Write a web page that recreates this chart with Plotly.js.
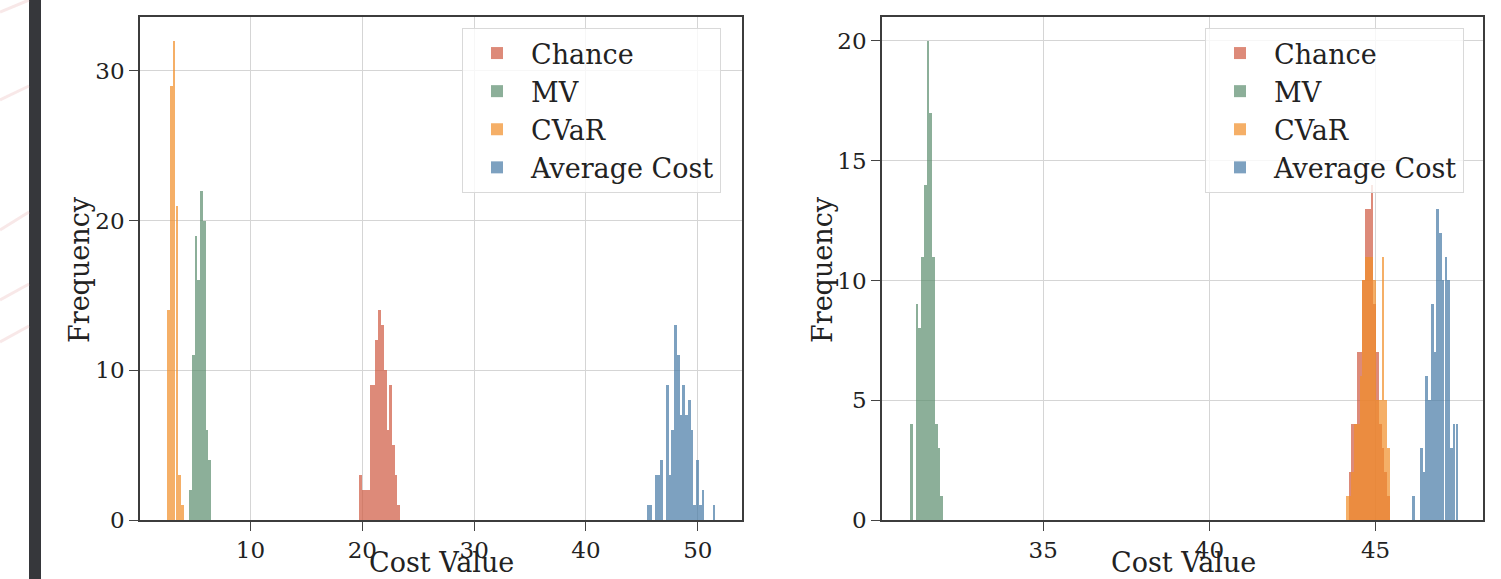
<!DOCTYPE html>
<html>
<head>
<meta charset="utf-8">
<script src="https://cdn.plot.ly/plotly-3.0.1.min.js"></script>
<style>
  html, body { margin: 0; padding: 0; background: #ffffff; }
  #chart { width: 1501px; height: 579px; }
</style>
</head>
<body>
<div id="chart"></div>
<script>
// ---------- DATA ----------
const seriesNames = ["Chance", "MV", "CVaR", "Average Cost"];

// Left panel: histogram bin centres (cost value) and frequencies
const leftChanceCost = [19.83, 20.08, 20.32, 20.57, 20.81, 21.06, 21.30, 21.55, 21.79, 22.04, 22.28, 22.53, 22.77, 23.02, 23.26];
const leftChanceFreq = [3, 2, 2, 2, 9, 9, 12, 14, 13, 10, 6, 9, 5, 3, 1];
const leftMVCost = [4.64, 4.89, 5.13, 5.38, 5.62, 5.87, 6.11, 6.36];
const leftMVFreq = [2, 11, 19, 16, 22, 20, 6, 4];
const leftCVaRCost = [2.68, 2.93, 3.17, 3.42, 3.66, 3.91];
const leftCVaRFreq = [14, 29, 32, 21, 3, 1];
const leftAvgCost = [45.56, 45.80, 46.05, 46.29, 46.54, 46.78, 47.03, 47.27, 47.52, 47.76, 48.01, 48.25, 48.50, 48.74, 48.99, 49.23, 49.48, 49.72, 49.97, 50.21, 50.46, 50.70, 50.95, 51.19, 51.44];
const leftAvgFreq = [1, 1, 0, 3, 3, 4, 0, 9, 3, 6, 13, 11, 7, 9, 7, 8, 6, 1, 4, 1, 2, 0, 0, 0, 1];

// Right panel
const rightChanceCost = [44.23, 44.31, 44.40, 44.48, 44.56, 44.64, 44.73, 44.81, 44.89, 44.97, 45.06, 45.14, 45.22, 45.30, 45.39];
const rightChanceFreq = [2, 4, 4, 7, 7, 10, 13, 13, 14, 9, 7, 4, 3, 2, 1];
const rightMVCost = [31.04, 31.12, 31.20, 31.28, 31.37, 31.45, 31.53, 31.61, 31.70, 31.78, 31.86, 31.94];
const rightMVFreq = [4, 0, 9, 8, 11, 14, 20, 17, 11, 4, 3, 1];
const rightCVaRCost = [44.15, 44.23, 44.31, 44.40, 44.48, 44.56, 44.64, 44.73, 44.81, 44.89, 44.97, 45.06, 45.14, 45.22, 45.30, 45.39];
const rightCVaRFreq = [1, 1, 2, 4, 4, 6, 10, 11, 11, 11, 10, 5, 5, 11, 5, 3];
const rightAvgCost = [46.13, 46.21, 46.29, 46.37, 46.46, 46.54, 46.62, 46.70, 46.79, 46.87, 46.95, 47.03, 47.12, 47.20, 47.28, 47.36, 47.45];
const rightAvgFreq = [1, 0, 0, 3, 2, 6, 5, 9, 7, 13, 12, 10, 11, 10, 3, 4, 4];

const xTicksLeft = [10, 20, 30, 40, 50];
const yTicksLeft = [0, 10, 20, 30];
const xTicksRight = [35, 40, 45];
const yTicksRight = [0, 5, 10, 15, 20];

// ---------- STYLE ----------
const FONT = "DejaVu Serif, Liberation Serif, serif";
const colors = ["#D05A41", "#5C8E6E", "#F28E28", "#477AA6"];
const leftBinWidth = 0.245;
const rightBinWidth = 0.0825;

function barTrace(name, x, y, color, width, xa, ya, legendId) {
  return {
    type: "bar", name: name, x: x, y: y, width: width,
    marker: { color: color, line: { width: 0 } },
    opacity: 0.7,
    xaxis: xa, yaxis: ya, legend: legendId,
    hovertemplate: name + "<br>Cost %{x}<br>Freq %{y}<extra></extra>"
  };
}

const traces = [
  barTrace(seriesNames[0], leftChanceCost, leftChanceFreq, colors[0], leftBinWidth, "x", "y", "legend"),
  barTrace(seriesNames[1], leftMVCost, leftMVFreq, colors[1], leftBinWidth, "x", "y", "legend"),
  barTrace(seriesNames[2], leftCVaRCost, leftCVaRFreq, colors[2], leftBinWidth, "x", "y", "legend"),
  barTrace(seriesNames[3], leftAvgCost, leftAvgFreq, colors[3], leftBinWidth, "x", "y", "legend"),
  barTrace(seriesNames[0], rightChanceCost, rightChanceFreq, colors[0], rightBinWidth, "x2", "y2", "legend2"),
  barTrace(seriesNames[1], rightMVCost, rightMVFreq, colors[1], rightBinWidth, "x2", "y2", "legend2"),
  barTrace(seriesNames[2], rightCVaRCost, rightCVaRFreq, colors[2], rightBinWidth, "x2", "y2", "legend2"),
  barTrace(seriesNames[3], rightAvgCost, rightAvgFreq, colors[3], rightBinWidth, "x2", "y2", "legend2")
];

const W = 1501, H = 579;
const yDomain = [59 / H, 1 - 17 / H];

function axisBase(extra) {
  return Object.assign({
    ticks: "outside", ticklen: 9, tickwidth: 1.3, tickcolor: "#444",
    showline: true, mirror: true, linecolor: "#3c3c3c", linewidth: 1.5,
    showgrid: true, gridcolor: "#d5d5d5", gridwidth: 1.3,
    zeroline: false, automargin: false, fixedrange: true,
    tickfont: { family: FONT, size: 23, color: "#222" }
  }, extra);
}

function legendBase(xPix) {
  return {
    x: xPix / W, y: 1 - 28 / H, xanchor: "left", yanchor: "top",
    bgcolor: "rgba(255,255,255,0.8)", bordercolor: "#d9d9d9", borderwidth: 1,
    font: { family: FONT, size: 27, color: "#222" },
    tracegroupgap: 0, itemwidth: 58, traceorder: "normal"
  };
}

const titleFont = { family: FONT, size: 27, color: "#222" };

const stripes = [[0, 12, 29, 0], [0, 100, 29, 86], [0, 230, 29, 212], [0, 300, 29, 284], [0, 342, 29, 326]];

const shapes = [
  { type: "rect", xref: "paper", yref: "paper", x0: 29 / W, x1: 41 / W, y0: 0, y1: 1,
    fillcolor: "#36373b", line: { width: 0 }, layer: "above" }
].concat(stripes.map(s => ({
  type: "line", xref: "paper", yref: "paper",
  x0: s[0] / W, y0: 1 - s[1] / H, x1: s[2] / W, y1: 1 - s[3] / H,
  line: { color: "rgba(235,190,190,0.35)", width: 3 }
})));

const layout = {
  width: W, height: H,
  margin: { l: 0, r: 0, t: 0, b: 0, pad: 0 },
  paper_bgcolor: "#ffffff", plot_bgcolor: "#ffffff",
  barmode: "overlay", bargap: 0,
  showlegend: true,
  font: { family: FONT, color: "#222" },
  xaxis: axisBase({ domain: [140 / W, 742 / W], range: [0.12, 53.95], tickvals: xTicksLeft, anchor: "y" }),
  yaxis: axisBase({ domain: yDomain, range: [0, 33.6], tickvals: yTicksLeft, anchor: "x" }),
  xaxis2: axisBase({ domain: [882 / W, 1483 / W], range: [30.15, 48.23], tickvals: xTicksRight, anchor: "y2" }),
  yaxis2: axisBase({ domain: yDomain, range: [0, 21], tickvals: yTicksRight, anchor: "x2" }),
  legend: legendBase(462),
  legend2: legendBase(1205),
  annotations: [
    { text: "Cost Value", xref: "paper", yref: "paper", x: 441 / W, y: 1 - 562 / H, xanchor: "center", yanchor: "middle", showarrow: false, font: titleFont },
    { text: "Cost Value", xref: "paper", yref: "paper", x: 1183 / W, y: 1 - 562 / H, xanchor: "center", yanchor: "middle", showarrow: false, font: titleFont },
    { text: "Frequency", xref: "paper", yref: "paper", x: 79 / W, y: 1 - 270 / H, xanchor: "center", yanchor: "middle", textangle: -90, showarrow: false, font: titleFont },
    { text: "Frequency", xref: "paper", yref: "paper", x: 822 / W, y: 1 - 270 / H, xanchor: "center", yanchor: "middle", textangle: -90, showarrow: false, font: titleFont }
  ],
  shapes: shapes
};

Plotly.newPlot("chart", traces, layout, { displayModeBar: false, responsive: false });
</script>
</body>
</html>
